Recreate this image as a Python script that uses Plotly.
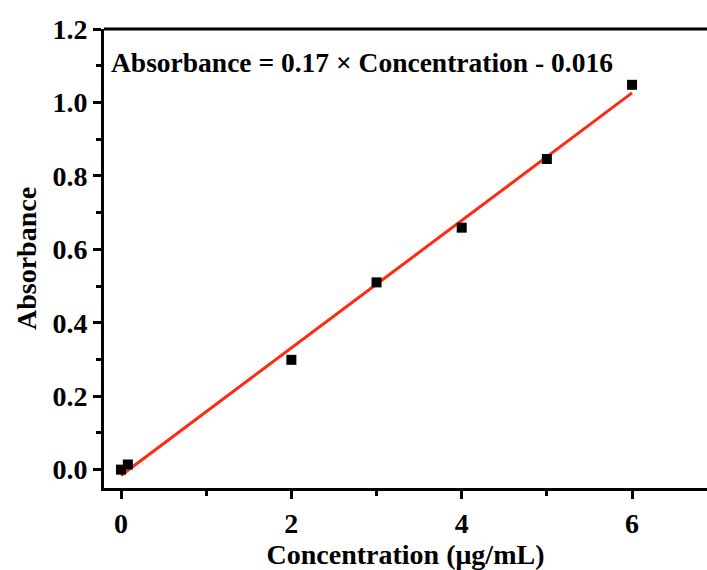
import plotly.graph_objects as go

concentration = [0, 0.08, 2, 3, 4, 5, 6]
absorbance = [0.0, 0.014, 0.299, 0.51, 0.659, 0.846, 1.048]
fit_x = [0, 6]
fit_y = [-0.016, 1.026]
x_ticks = [0, 2, 4, 6]
y_ticks = [0.0, 0.2, 0.4, 0.6, 0.8, 1.0, 1.2]
equation = "Absorbance = 0.17 × Concentration - 0.016"

FONT = "Liberation Serif"
fig = go.Figure()
fig.add_trace(go.Scatter(x=fit_x, y=fit_y, mode="lines",
                         line=dict(color="#ff2a10", width=3), showlegend=False))
fig.add_trace(go.Scatter(x=concentration, y=absorbance, mode="markers",
                         marker=dict(symbol="square", size=10, color="black", line=dict(width=0)),
                         showlegend=False))

fig.add_annotation(x=0, y=1.11, xref="x", yref="y", xanchor="left", yanchor="middle",
                   text="<b>" + equation + "</b>", showarrow=False,
                   font=dict(family=FONT, size=27.5, color="black"), xshift=-12)

axis_common = dict(showgrid=False, zeroline=False, showline=True, linecolor="black", linewidth=3,
                   ticks="outside", ticklen=8, tickwidth=3, tickcolor="black",
                   tickfont=dict(family=FONT, size=28, color="black"))

fig.update_xaxes(range=[-0.2, 6.88], tickvals=x_ticks, ticktext=[f"<b>{v}</b>" for v in x_ticks],
                 title=dict(text="<b>Concentration (μg/mL)</b>", font=dict(family=FONT, size=28, color="black"), standoff=4),
                 minor=dict(tickvals=[1, 3, 5], ticks="outside", ticklen=5, tickwidth=3, tickcolor="black"),
                 mirror=False, **axis_common)
fig.update_yaxes(range=[-0.05, 1.2], tickvals=y_ticks, ticktext=[f"<b>{v:.1f}</b>" for v in y_ticks],
                 title=dict(text="<b>Absorbance</b>", font=dict(family=FONT, size=28, color="black"), standoff=8),
                 minor=dict(tickvals=[0.1, 0.3, 0.5, 0.7, 0.9, 1.1], ticks="outside", ticklen=5, tickwidth=3, tickcolor="black"),
                 **axis_common)

# top border line
fig.add_shape(type="line", xref="paper", yref="paper", x0=0, x1=1, y0=1, y1=1,
              line=dict(color="black", width=3))

fig.update_layout(width=707, height=570, margin=dict(l=104, r=0, t=29, b=82),
                  plot_bgcolor="white", paper_bgcolor="white")
fig.write_html("out.html")
